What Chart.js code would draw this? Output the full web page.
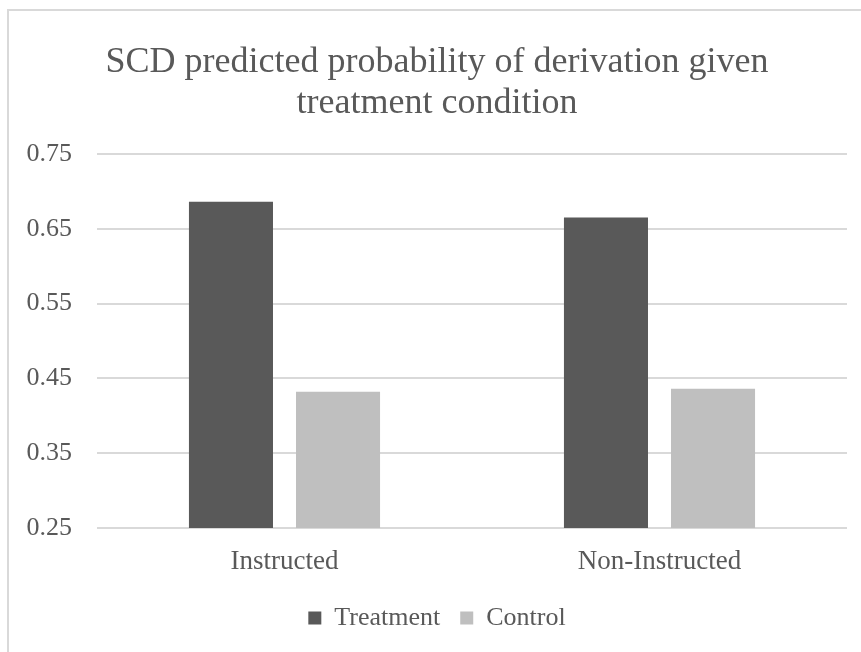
<!DOCTYPE html>
<html>
<head>
<meta charset="utf-8">
<script src="https://cdn.jsdelivr.net/npm/chart.js@4"></script>
<style>
  html, body { margin: 0; padding: 0; background: #fff; }
  #frame {
    position: absolute;
    left: 7px;
    top: 9px;
    border-left: 2px solid #d9d9d9;
    border-top: 2px solid #d9d9d9;
  }
  canvas { display: block; }
</style>
</head>
<body>
<div id="frame">
  <canvas id="chart" width="852" height="641"></canvas>
</div>
<script>
const categories = ['Instructed', 'Non-Instructed']
const treatment = [0.686, 0.665]
const control = [0.432, 0.436]
const yTicks = [0.25, 0.35, 0.45, 0.55, 0.65, 0.75]

const serif = '"Liberation Serif", "Times New Roman", serif'
const textColor = '#595959'

const ctx = document.getElementById('chart').getContext('2d')
new Chart(ctx, {
  type: 'bar',
  data: {
    labels: categories,
    datasets: [{
      label: 'Treatment',
      data: treatment,
      backgroundColor: '#595959'
    }, {
      label: 'Control',
      data: control,
      backgroundColor: '#bfbfbf'
    }]
  },
  options: {
    responsive: false,
    animation: false,
    categoryPercentage: 0.571,
    barPercentage: 0.785,
    layout: { padding: { left: 18, right: 14, top: 0, bottom: 11 } },
    plugins: {
      title: {
        display: true,
        text: ['SCD predicted probability of derivation given', 'treatment condition'],
        color: textColor,
        font: { family: serif, size: 36, weight: 'normal', lineHeight: 41 / 36 },
        padding: { top: 31, bottom: 30 }
      },
      legend: {
        position: 'bottom',
        labels: {
          color: textColor,
          font: { family: serif, size: 26 },
          boxWidth: 13,
          boxHeight: 13,
          padding: 20
        }
      },
      tooltip: { enabled: false }
    },
    scales: {
      x: {
        grid: { display: false, drawTicks: false },
        border: { display: false },
        ticks: {
          color: textColor,
          font: { family: serif, size: 27 },
          padding: 18
        },
        afterFit(scale) { scale.height = 57 }
      },
      y: {
        min: yTicks[0],
        max: yTicks[yTicks.length - 1],
        afterBuildTicks(scale) {
          scale.ticks = yTicks.map(v => ({ value: v }))
        },
        grid: { color: '#d9d9d9', lineWidth: 2, drawTicks: false },
        border: { display: false },
        ticks: {
          color: textColor,
          font: { family: serif, size: 26 },
          padding: 25,
          callback: v => v.toFixed(2)
        },
        afterFit(scale) { scale.width = 70 }
      }
    }
  }
})
</script>
</body>
</html>
